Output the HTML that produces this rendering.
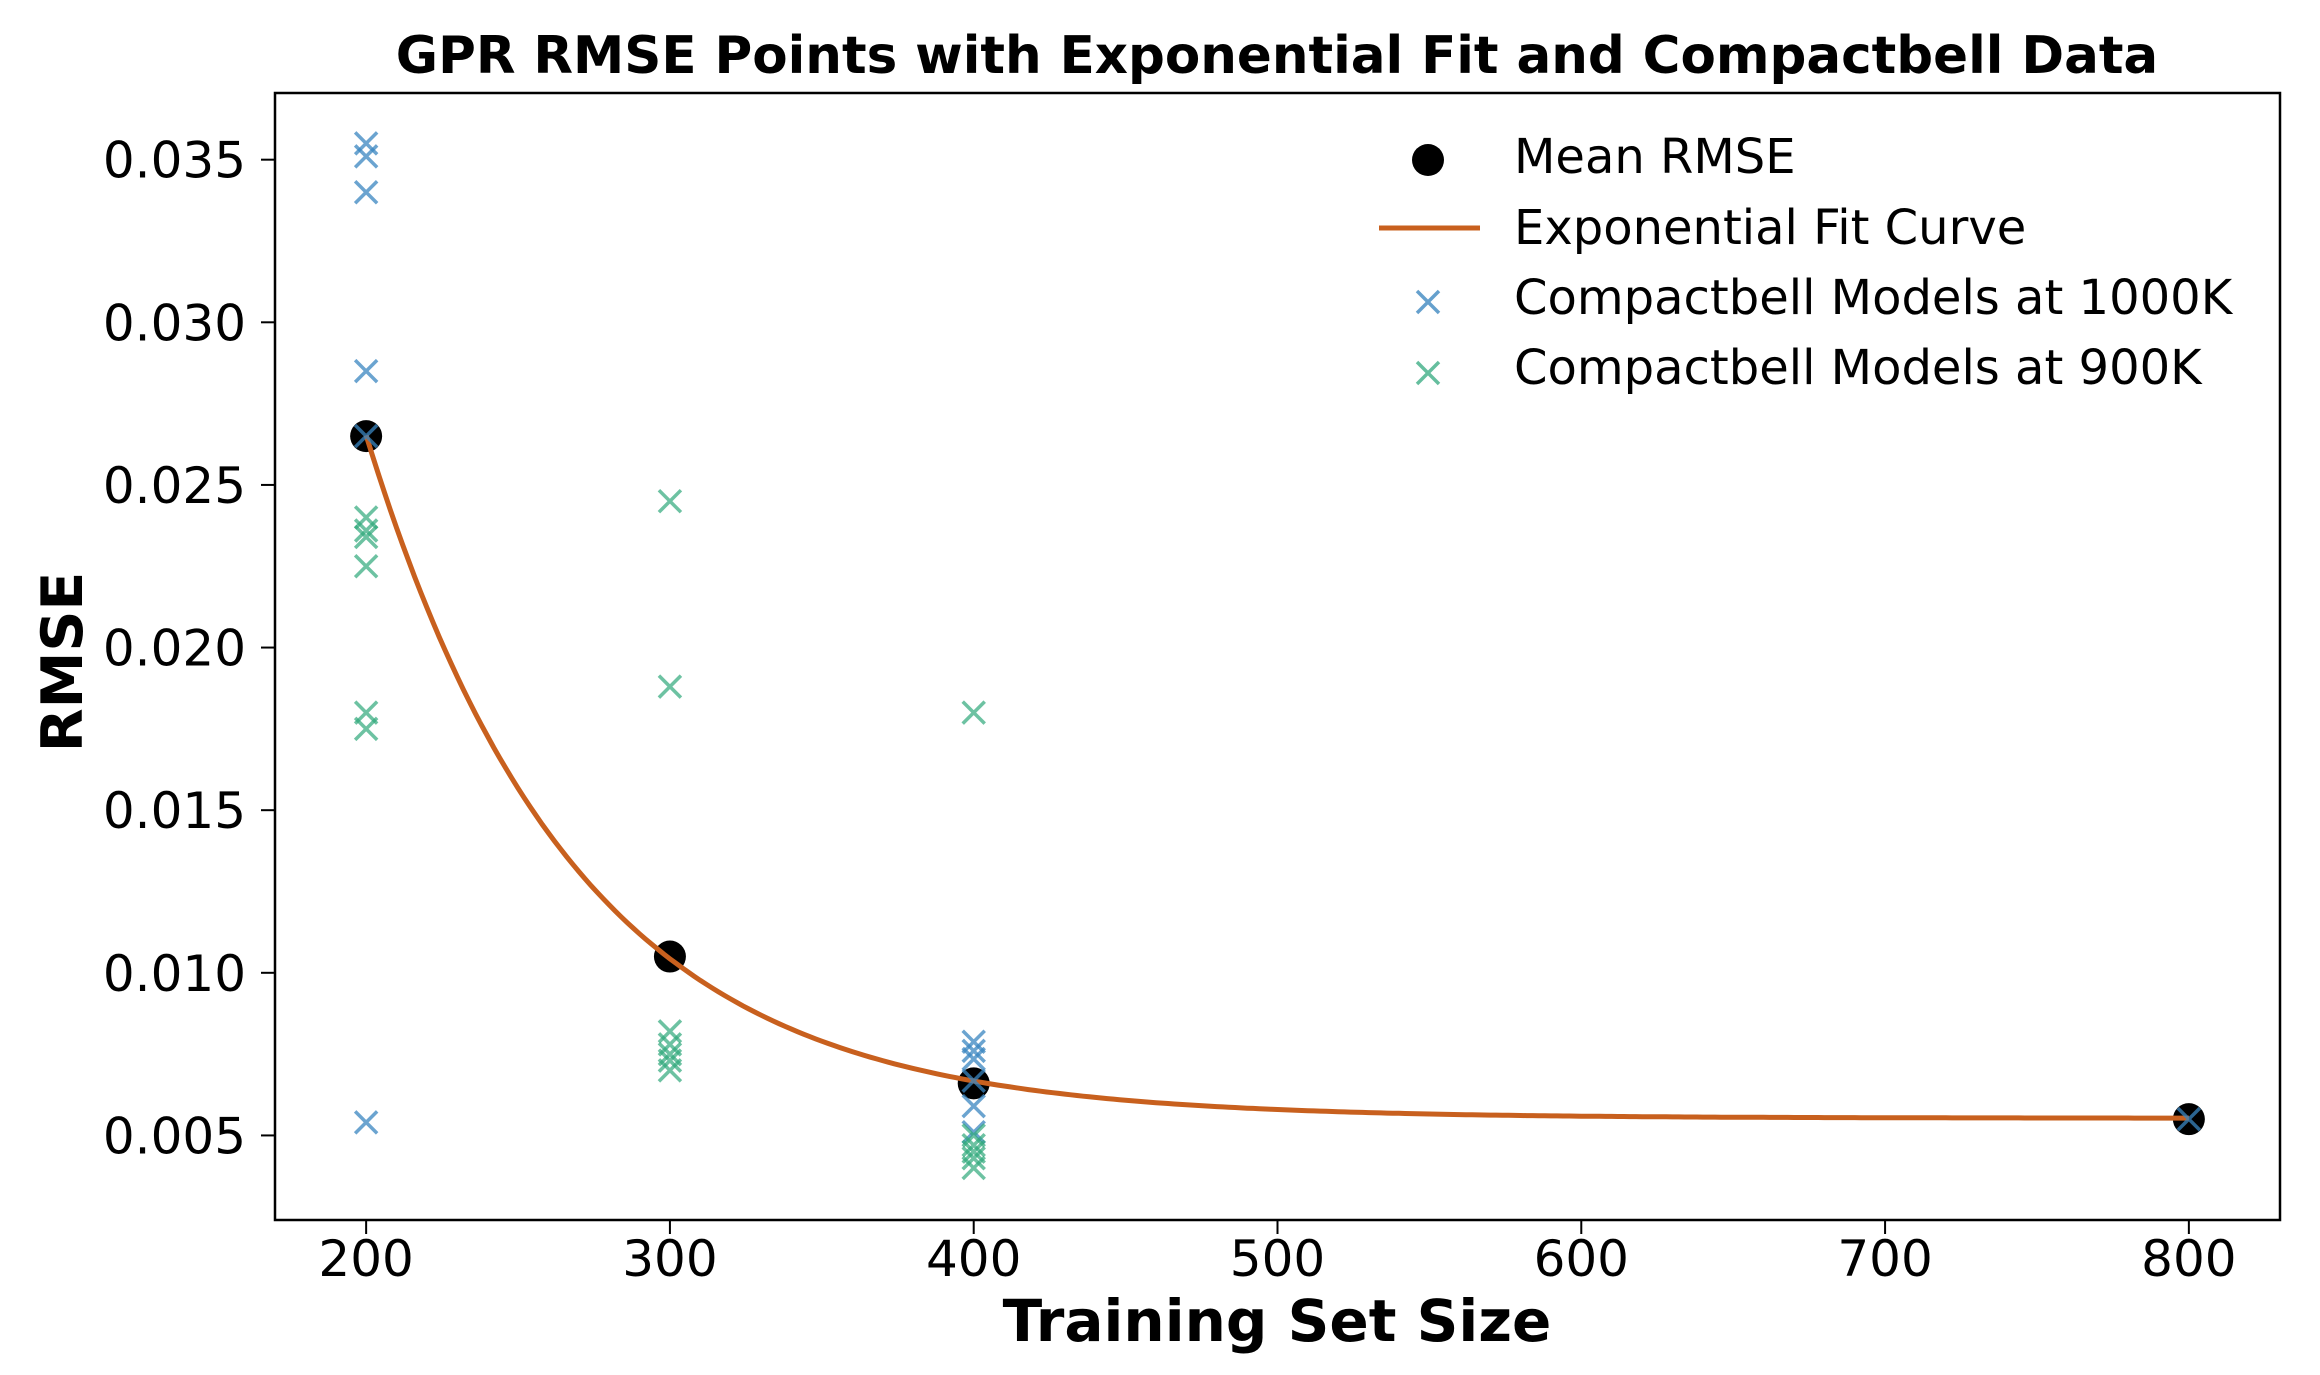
<!DOCTYPE html>
<html><head><meta charset="utf-8"><style>
html,body{margin:0;padding:0;background:#fff;}
svg{display:block;font-family:"DejaVu Sans","Liberation Sans",sans-serif;}
</style></head><body>
<svg id="chart" width="2320" height="1375" viewBox="0 0 2320 1375" xmlns="http://www.w3.org/2000/svg">
<rect width="2320" height="1375" fill="#fff"/>
<text x="1277" y="73" font-size="51.5" font-weight="bold" text-anchor="middle">GPR RMSE Points with Exponential Fit and Compactbell Data</text>
<g id="plot"></g>
<text x="1277" y="1341" font-size="58" font-weight="bold" text-anchor="middle">Training Set Size</text>
<text transform="translate(82,662) rotate(-90)" font-size="57" font-weight="bold" text-anchor="middle">RMSE</text>
<g>
  <circle cx="1428" cy="160" r="16" fill="#000"/>
  <text x="1514" y="173" font-size="48">Mean RMSE</text>
  <line x1="1379" y1="228" x2="1480" y2="228" stroke="#c8601e" stroke-width="5"/>
  <text x="1514" y="244" font-size="48">Exponential Fit Curve</text>
  <path d="M1417 291 L1439 313 M1439 291 L1417 313" stroke="#4a8fc4" stroke-opacity="0.85" stroke-width="3.5"/>
  <text x="1514" y="314" font-size="48">Compactbell Models at 1000K</text>
  <path d="M1417 362 L1439 384 M1439 362 L1417 384" stroke="#3fae86" stroke-opacity="0.8" stroke-width="3.5"/>
  <text x="1514" y="384" font-size="48">Compactbell Models at 900K</text>
</g>
</svg>
<script>
const meanX = [200, 300, 400, 800];
const meanY = [0.0265, 0.0105, 0.0066, 0.0055];
const blueX = [200,200,200,200,200,200,400,400,400,400,400,400,800];
const blueY = [0.0355,0.0351,0.0340,0.0285,0.0265,0.0054,0.00788,0.0076,0.00735,0.00668,0.0059,0.0051,0.0055];
const greenX = [200,200,200,200,200,200,300,300,300,300,300,300,300,400,400,400,400,400,400];
const greenY = [0.0240,0.0236,0.0234,0.0225,0.0180,0.0175,0.0245,0.0188,0.0082,0.0078,0.0075,0.0073,0.0070,0.0180,0.0050,0.0047,0.0045,0.0043,0.0040];
const fitParams = [0.021, 0.01455, 0.00553]; // a, b, c : a*exp(-b*(x-200))+c
const xTicks = [200,300,400,500,600,700,800];
const yTicks = [0.005,0.010,0.015,0.020,0.025,0.030,0.035];
const yTickLabels = ["0.005","0.010","0.015","0.020","0.025","0.030","0.035"];

const L=275,R=2280,T=93,B=1220;
const xMin=170,xMax=830,yMin=0.0024,yMax=0.03705;
const sx=v=>L+(v-xMin)/(xMax-xMin)*(R-L);
const sy=v=>B-(v-yMin)/(yMax-yMin)*(B-T);
const NS="http://www.w3.org/2000/svg";
const g=document.getElementById('plot');
function mk(tag,attrs,parent){const e=document.createElementNS(NS,tag);for(const k in attrs)e.setAttribute(k,attrs[k]);(parent||g).appendChild(e);return e;}

const frame=mk('rect',{x:L,y:T,width:R-L,height:B-T,fill:'none',stroke:'#000','stroke-width':2.5});



xTicks.forEach(v=>{
  const t=mk('line',{x1:sx(v),x2:sx(v),y1:B,y2:B+14,stroke:'#000','stroke-width':2});
  
  
  const l=mk('text',{x:sx(v),y:1276,'font-size':50,'text-anchor':'middle'});
  l.textContent=String(v);
  
  
});
yTicks.forEach((v,i)=>{
  const t=mk('line',{x1:L-14,x2:L,y1:sy(v),y2:sy(v),stroke:'#000','stroke-width':2});
  
  
  const l=mk('text',{x:246,y:sy(v)+18,'font-size':50,'text-anchor':'end'});
  l.textContent=yTickLabels[i];
  
  
});

function cross(x,y,color,op,name){
  const cx=sx(x),cy=sy(y),h=11;
  const p=mk('path',{d:`M${cx-h} ${cy-h} L${cx+h} ${cy+h} M${cx+h} ${cy-h} L${cx-h} ${cy+h}`,stroke:color,'stroke-opacity':op,'stroke-width':3.5,fill:'none'});
  
  
}
meanX.forEach((x,i)=>{
  const c=mk('circle',{cx:sx(x),cy:sy(meanY[i]),r:16,fill:'#000'});
  
  
});
let d='';
for(let x=meanX[0];x<=meanX[meanX.length-1];x+=2){
  const y=fitParams[0]*Math.exp(-fitParams[1]*(x-200))+fitParams[2];
  d+=(d?'L':'M')+sx(x).toFixed(1)+' '+sy(y).toFixed(1)+' ';
}
const fit=mk('path',{d:d,stroke:'#c8601e','stroke-width':5,fill:'none'});


blueX.forEach((x,i)=>cross(x,blueY[i],'#3a86c0',0.75,'point-1000k'));
greenX.forEach((x,i)=>cross(x,greenY[i],'#2fa87a',0.7,'point-900k'));
</script>
</body></html>
